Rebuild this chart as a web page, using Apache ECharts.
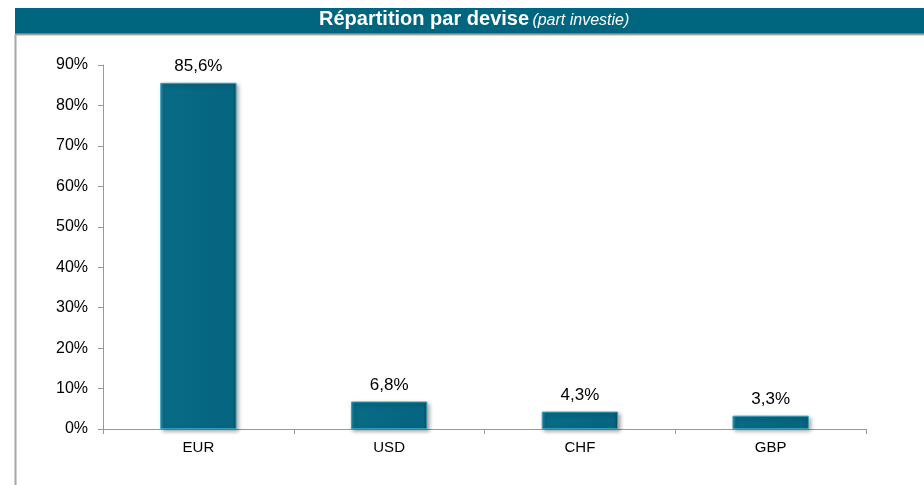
<!DOCTYPE html>
<html><head><meta charset="utf-8">
<script src="https://cdn.jsdelivr.net/npm/echarts@6/dist/echarts.min.js"></script>
<style>html,body{margin:0;padding:0;background:#fff}#c{width:924px;height:485px}</style>
</head><body><div id="c"></div>
<script>
const categories = ['EUR', 'USD', 'CHF', 'GBP'];
const values = [85.6, 6.8, 4.3, 3.3];
const yTicks = [0, 10, 20, 30, 40, 50, 60, 70, 80, 90];

const chart = echarts.init(document.getElementById('c'));
const font = 'Arial, "Liberation Sans", sans-serif';
chart.setOption({
  animation: false,
  graphic: [
    { type: 'rect', shape: { x: 15, y: 8, width: 909, height: 26 }, style: { fill: '#00657E' } },
    { type: 'line', shape: { x1: 15, y1: 34.5, x2: 924, y2: 34.5 }, style: { stroke: '#A6A6A6', lineWidth: 2 } },
    { type: 'line', shape: { x1: 15.5, y1: 34, x2: 15.5, y2: 485 }, style: { stroke: '#A6A6A6', lineWidth: 2 } },
    { type: 'text', left: 319, top: 9, style: {
        rich: {
          b: { fontFamily: font, fontWeight: 'bold', fontSize: 20, fill: '#fff', verticalAlign: 'bottom' },
          i: { fontFamily: font, fontStyle: 'italic', fontSize: 16, fill: '#fff', verticalAlign: 'bottom' }
        },
        text: '{b|Répartition par devise} {i|(part investie)}'
      } }
  ],
  grid: { left: 103, right: 58, top: 65, bottom: 56 },
  xAxis: {
    type: 'category', data: categories,
    axisLine: { lineStyle: { color: '#999', width: 1 } },
    axisTick: { show: true, length: 5, lineStyle: { color: '#999' } },
    axisLabel: { color: '#000', fontFamily: font, fontSize: 15, margin: 11 }
  },
  yAxis: {
    type: 'value', min: yTicks[0], max: yTicks[yTicks.length - 1], interval: 10,
    axisLine: { show: true, lineStyle: { color: '#999', width: 1 } },
    axisTick: { show: true, length: 5, lineStyle: { color: '#999' } },
    splitLine: { show: false },
    axisLabel: { color: '#000', fontFamily: font, fontSize: 16, margin: 15, formatter: '{value}%' }
  },
  series: [{
    type: 'bar', data: values, barWidth: '40%',
    itemStyle: {
      color: {
        type: 'linear', x: 0, y: 0, x2: 1, y2: 0,
        colorStops: [
          { offset: 0, color: '#2B8CA5' }, { offset: 0.05, color: '#086B86' },
          { offset: 0.95, color: '#066580' }, { offset: 1, color: '#0A4F62' }
        ]
      },
      borderColor: '#3A9DB6', borderWidth: 1,
      shadowColor: 'rgba(0,0,0,0.35)', shadowBlur: 4, shadowOffsetX: 2, shadowOffsetY: 2
    },
    label: {
      show: true, position: 'top', distance: 8, color: '#000', fontFamily: font, fontSize: 17,
      formatter: p => p.value.toFixed(1).replace('.', ',') + '%'
    }
  }]
});
</script></body></html>
